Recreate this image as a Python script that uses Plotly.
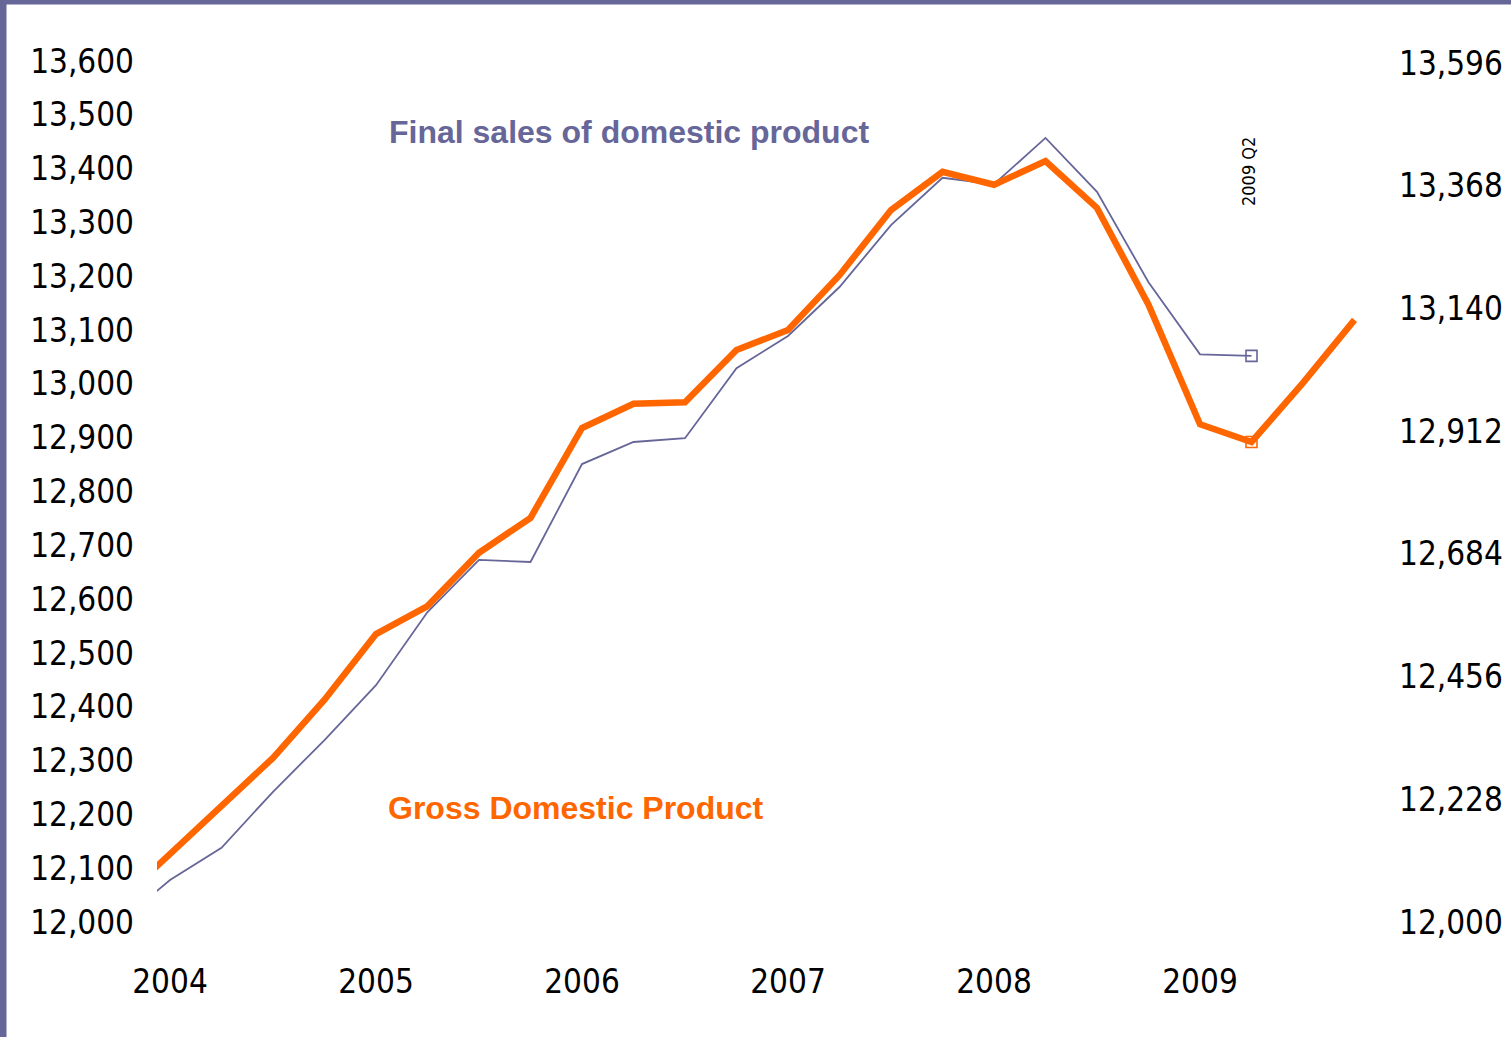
import plotly.graph_objects as go

# Quarterly series (billions of chained dollars)
quarters = [
    "2003 Q4",
    "2004 Q1", "2004 Q2", "2004 Q3", "2004 Q4",
    "2005 Q1", "2005 Q2", "2005 Q3", "2005 Q4",
    "2006 Q1", "2006 Q2", "2006 Q3", "2006 Q4",
    "2007 Q1", "2007 Q2", "2007 Q3", "2007 Q4",
    "2008 Q1", "2008 Q2", "2008 Q3", "2008 Q4",
    "2009 Q1", "2009 Q2", "2009 Q3", "2009 Q4",
]
gdp = [
    12037,
    12125, 12216, 12305, 12413,
    12535, 12587, 12686, 12751,
    12918, 12963, 12966, 13063,
    13100, 13202, 13323, 13394,
    13370, 13414, 13327, 13147,
    12925, 12892, 13002, 13119,
]
final_sales = [
    11998,
    12078, 12138, 12242, 12338,
    12440, 12576, 12673, 12669,
    12851, 12892, 12899, 13029,
    13089, 13180, 13295, 13383,
    13371, 13457, 13357, 13189,
    13055, 13052,
]
highlight_quarter = "2009 Q2"

year_ticks = [2004, 2005, 2006, 2007, 2008, 2009]
year_labels = ["2004", "2005", "2006", "2007", "2008", "2009"]
left_ticks = [12000, 12100, 12200, 12300, 12400, 12500, 12600, 12700,
              12800, 12900, 13000, 13100, 13200, 13300, 13400, 13500, 13600]
right_ticks = [12000, 12228, 12456, 12684, 12912, 13140, 13368, 13596]


def qpos(label):
    year, q = label.split(" Q")
    return int(year) + (int(q) - 1) / 4


x_gdp = [qpos(q) for q in quarters]
x_fs = x_gdp[:len(final_sales)]
hi = quarters.index(highlight_quarter)

ORANGE = "#FF6600"
PURPLE = "#666699"
NARROW = "DejaVu Sans Condensed, sans-serif"
BOLD = "Liberation Sans, Arial, sans-serif"

W, H = 1511, 1037
ML, MR, MT, MB = 157, 119, 61, 115
PW, PH = W - ML - MR, H - MT - MB


def px(xp):
    return (xp - ML) / PW


def py(yp):
    return (H - MB - yp) / PH


fig = go.Figure()

fig.add_trace(go.Scatter(
    x=x_fs, y=final_sales, mode="lines",
    line=dict(color=PURPLE, width=1.8), yaxis="y", hoverinfo="skip",
))
fig.add_trace(go.Scatter(
    x=[x_fs[hi]], y=[final_sales[hi]], mode="markers",
    marker=dict(symbol="square-open", size=11, color=PURPLE,
                line=dict(width=1.6, color=PURPLE)),
    yaxis="y", hoverinfo="skip",
))
fig.add_trace(go.Scatter(
    x=x_gdp, y=gdp, mode="lines",
    line=dict(color=ORANGE, width=6.5), yaxis="y2", hoverinfo="skip",
))
fig.add_trace(go.Scatter(
    x=[x_gdp[hi]], y=[gdp[hi]], mode="markers",
    marker=dict(symbol="square-open", size=11, color=ORANGE,
                line=dict(width=1.6, color=ORANGE)),
    yaxis="y2", hoverinfo="skip",
))

x0 = 2004 - 13 / 206
x1 = x0 + PW / 206

tickfont = dict(family=NARROW, size=33, color="#000000")

fig.update_layout(
    width=W, height=H, autosize=False,
    margin=dict(l=ML, r=MR, t=MT, b=MB, pad=0),
    paper_bgcolor="white", plot_bgcolor="white",
    showlegend=False,
    xaxis=dict(
        range=[x0, x1], tickvals=year_ticks, ticktext=year_labels,
        showgrid=False, zeroline=False, showline=False, ticks="",
        tickfont=tickfont, ticklabelstandoff=37, automargin=False,
    ),
    yaxis=dict(
        range=[12000, 13600], tickvals=left_ticks,
        ticktext=[f"{v:,}" for v in left_ticks],
        showgrid=False, zeroline=False, showline=False, ticks="",
        tickfont=tickfont, ticklabelstandoff=22, automargin=False,
    ),
    yaxis2=dict(
        range=[12000, 13600], tickvals=right_ticks,
        ticktext=[f"{v:,}" for v in right_ticks],
        overlaying="y", side="right",
        showgrid=False, zeroline=False, showline=False, ticks="",
        tickfont=tickfont, ticklabelstandoff=6, automargin=False,
    ),
    annotations=[
        dict(text="Final sales of domestic product", xref="paper", yref="paper",
             x=px(387), y=py(132), xanchor="left", yanchor="middle",
             showarrow=False,
             font=dict(family=BOLD, size=32, color=PURPLE, weight="bold")),
        dict(text="Gross Domestic Product", xref="paper", yref="paper",
             x=px(386), y=py(808), xanchor="left", yanchor="middle",
             showarrow=False,
             font=dict(family=BOLD, size=32, color=ORANGE, weight="bold")),
        dict(text=highlight_quarter, xref="paper", yref="paper",
             x=px(1248), y=py(172), xanchor="center", yanchor="middle",
             textangle=-90, showarrow=False,
             font=dict(family=NARROW, size=18, color="#000000")),
    ],
    shapes=[
        # frame bands along the top and left edges
        dict(type="rect", xref="paper", yref="paper", layer="above",
             x0=px(0), x1=px(W), y0=py(4.5), y1=py(0),
             fillcolor=PURPLE, line=dict(width=0)),
        dict(type="rect", xref="paper", yref="paper", layer="above",
             x0=px(0), x1=px(6.5), y0=py(H), y1=py(0),
             fillcolor=PURPLE, line=dict(width=0)),
    ],
)

fig.write_html("out.html")
